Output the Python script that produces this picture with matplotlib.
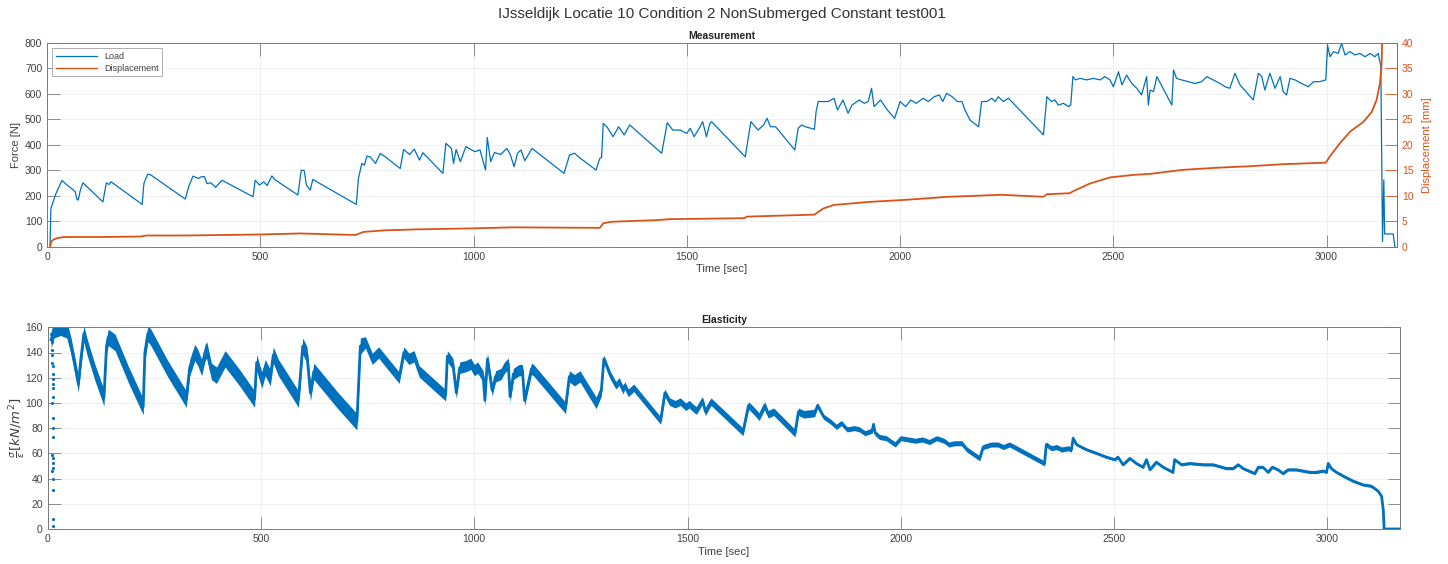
import numpy as np
import matplotlib
matplotlib.use("Agg")
import matplotlib.pyplot as plt

plt.rcParams['font.family'] = ['Liberation Sans', 'DejaVu Sans']

# ---------------- data ----------------
load_time = [7, 9, 13, 20, 28, 35, 47, 60, 66, 70, 73, 78, 84, 131, 139, 145, 150, 223, 227, 236, 244,
             324, 332, 342, 355, 362, 369, 375, 384, 395, 410, 483, 488, 498, 508, 516, 527, 535, 588,
             596, 603, 608, 617, 623, 725, 730, 738, 744, 750, 758, 770, 781, 793, 828, 836, 850, 861,
             873, 881, 928, 935, 948, 953, 959, 969, 982, 1003, 1015, 1028, 1032, 1040, 1049, 1063,
             1078, 1086, 1095, 1103, 1111, 1120, 1128, 1137, 1212, 1225, 1237, 1245, 1287, 1296, 1300,
             1304, 1313, 1327, 1340, 1353, 1366, 1441, 1454, 1467, 1484, 1500, 1508, 1517, 1529, 1537,
             1546, 1554, 1558, 1637, 1650, 1667, 1680, 1688, 1696, 1708, 1753, 1761, 1769, 1778, 1799,
             1803, 1808, 1820, 1832, 1845, 1853, 1866, 1878, 1887, 1904, 1916, 1925, 1933, 1939, 1954,
             1970, 1987, 2000, 2013, 2025, 2038, 2054, 2066, 2080, 2092, 2100, 2109, 2122, 2134, 2145,
             2152, 2164, 2184, 2191, 2203, 2215, 2223, 2230, 2242, 2254, 2336, 2344, 2355, 2363, 2371,
             2383, 2395, 2400, 2405, 2411, 2422, 2437, 2453, 2469, 2480, 2492, 2500, 2512, 2520, 2531,
             2543, 2555, 2566, 2578, 2582, 2586, 2594, 2602, 2637, 2641, 2648, 2660, 2676, 2691, 2707,
             2719, 2734, 2750, 2762, 2773, 2785, 2797, 2828, 2840, 2848, 2855, 2867, 2879, 2891, 2898,
             2906, 2914, 2926, 2941, 2957, 2969, 2984, 2998, 3002, 3008, 3016, 3027, 3035, 3043, 3055,
             3066, 3078, 3090, 3102, 3113, 3121, 3127, 3131, 3134, 3136, 3156, 3160]
load_force = [0, 150, 170, 205, 235, 260, 242, 225, 216, 186, 183, 222, 251, 176, 251, 244, 255, 166, 248, 285, 281,
              187, 235, 277, 268, 275, 275, 248, 251, 233, 261, 196, 261, 242, 255, 240, 278, 262, 203,
              301, 298, 242, 222, 264, 166, 268, 327, 320, 356, 352, 327, 366, 353, 307, 382, 362, 383,
              340, 369, 288, 406, 386, 327, 382, 334, 393, 373, 380, 301, 429, 334, 370, 362,
              386, 362, 314, 367, 380, 338, 360, 386, 288, 360, 367, 354, 301, 347, 350,
              484, 470, 432, 471, 439, 478, 367, 487, 458, 458, 445, 465, 432, 465, 491,
              432, 484, 491, 353, 491, 458, 478, 504, 471, 471, 380, 465, 478, 471, 461,
              530, 570, 570, 570, 583, 537, 576, 524, 556, 576, 563, 570, 622, 550, 576,
              537, 504, 570, 550, 576, 563, 583, 570, 589, 596, 570, 602, 589, 570, 570,
              537, 497, 471, 570, 570, 583, 570, 589, 570, 583, 439, 589, 570, 576, 556,
              563, 550, 556, 668, 655, 661, 655, 661, 655, 668, 655, 628, 687, 635, 674,
              641, 622, 596, 668, 556, 615, 609, 668, 556, 694, 661, 655, 648, 641, 648,
              668, 655, 641, 628, 622, 681, 635, 576, 681, 668, 615, 681, 622, 668, 609,
              596, 661, 655, 641, 628, 648, 648, 655, 792, 746, 766, 759, 799, 753, 766,
              753, 759, 746, 759, 746, 759, 707, 20, 262, 50, 50, 0]

disp_time = [7, 10, 15, 25, 40, 125, 219, 234, 328, 500, 594, 723, 742, 789, 867, 1000, 1091, 1296, 1304,
             1325, 1425, 1459, 1635, 1640, 1761, 1799, 1820, 1845, 1929, 2013, 2113, 2180, 2237, 2336,
             2344, 2398, 2406, 2445, 2492, 2547, 2586, 2664, 2742, 2820, 2898, 2998, 3008, 3031, 3055,
             3086, 3106, 3117, 3125, 3129, 3132]
disp_mm = [0, 1.0, 1.4, 1.7, 1.9, 1.9, 2.0, 2.2, 2.2, 2.4, 2.6, 2.3, 2.9, 3.2, 3.4, 3.6, 3.8, 3.7, 4.6,
           4.9, 5.2, 5.4, 5.6, 5.9, 6.2, 6.3, 7.5, 8.2, 8.8, 9.2, 9.8, 10.0, 10.2, 9.8,
           10.3, 10.5, 10.9, 12.4, 13.6, 14.1, 14.3, 15.1, 15.5, 15.8, 16.2, 16.5, 17.8, 20.3, 22.6,
           24.5, 26.5, 28.8, 32.1, 36, 48]

elas_time = [8, 15, 30, 45, 55, 65, 72, 78, 85, 92, 110, 132, 138, 142, 150, 158, 190, 224, 228, 235, 242,
             280, 325, 333, 345, 352, 361, 369, 373, 384, 396, 416, 450, 485, 490, 502, 510, 522, 529,
             541, 588, 598, 608, 616, 624, 680, 725, 733, 745, 761, 776, 824, 835, 847, 859, 871, 933,
             937, 950, 958, 966, 979, 992, 1000, 1008, 1021, 1025, 1031, 1042, 1050, 1063, 1071, 1080,
             1084, 1092, 1105, 1113, 1118, 1134, 1139, 1214, 1223, 1235, 1248, 1286, 1298, 1304, 1319,
             1332, 1340, 1349, 1353, 1361, 1374, 1437, 1447, 1458, 1471, 1483, 1496, 1504, 1513, 1521,
             1535, 1542, 1555, 1630, 1643, 1655, 1668, 1681, 1689, 1702, 1752, 1760, 1773, 1798, 1805,
             1819, 1836, 1849, 1861, 1874, 1891, 1903, 1916, 1933, 1936, 1940, 1950, 1966, 1987, 2000,
             2017, 2034, 2050, 2067, 2084, 2101, 2113, 2126, 2143, 2155, 2185, 2193, 2212, 2228, 2240,
             2255, 2337, 2341, 2353, 2365, 2377, 2392, 2400, 2404, 2412, 2423, 2435, 2459, 2482, 2502,
             2509, 2521, 2537, 2552, 2568, 2576, 2584, 2599, 2615, 2638, 2642, 2658, 2677, 2709, 2732,
             2763, 2779, 2791, 2802, 2830, 2838, 2849, 2861, 2871, 2884, 2896, 2908, 2927, 2959, 2974,
             2990, 2998, 3002, 3009, 3021, 3037, 3060, 3084, 3103, 3119, 3127, 3131, 3133, 3168]
elas_value = [150, 158, 160, 158, 145, 128, 115, 135, 155, 145, 125, 104, 145, 152, 150, 148, 122, 97, 140, 155, 152,
              128, 103, 128, 140, 136, 128, 140, 142, 125, 122, 135, 120, 103, 132, 118, 128, 120, 138,
              128, 103, 145, 138, 108, 125, 102, 85, 145, 148, 135, 140, 120, 140, 135, 137, 125, 106,
              137, 131, 108, 128, 129, 131, 126, 128, 121, 102, 135, 110, 121, 123, 128, 131,
              105, 123, 126, 126, 102, 127, 126, 96, 121, 118, 121, 100, 110, 135, 122,
              114, 117, 110, 114, 108, 112, 86, 108, 101, 99, 101, 97, 99, 96, 94,
              102, 93, 101, 77, 98, 94, 89, 98, 91, 93, 76, 93, 91, 92, 98,
              89, 85, 81, 84, 79, 80, 79, 76, 78, 83, 76, 73, 72, 67, 72,
              71, 70, 71, 69, 72, 70, 67, 68, 68, 63, 56, 65, 67, 67, 65,
              67, 52, 67, 64, 65, 63, 64, 63, 72, 67, 65, 63, 60, 57, 55,
              57, 51, 56, 52, 49, 55, 47, 53, 49, 45, 55, 51, 52, 51, 51,
              48, 48, 51, 48, 44, 49, 49, 45, 49, 47, 44, 47, 47, 45, 45,
              46, 45, 52, 48, 45, 42, 38, 35, 34, 30, 26, 15, 0, 0]
# band thickness of the dense sample cloud, per time range
elas_band_edges = [740, 1300, 1800, 2400, 3125]
elas_band_widths = [13, 9, 6, 4, 2, 0]

# isolated samples at the start of the test
elas_start_time = [9, 10, 10, 11, 11, 12, 12, 12, 13, 13, 13, 11, 12, 12, 13, 11, 12, 13, 12, 11, 12, 13, 12, 13]
elas_start_value = [155, 148, 142, 138, 132, 129, 123, 119, 115, 112, 105, 100, 88, 80, 73, 59, 56, 52, 48, 46,
                    40, 31, 8, 2]

title = "IJsseldijk Locatie 10 Condition 2 NonSubmerged Constant test001"

BLUE = '#0072BD'
ORANGE = '#D95319'
TXT = '#404040'
SPINE = '#7a7a7a'

fig = plt.figure(figsize=(14.48, 5.64), dpi=100)
fig.patch.set_facecolor('white')

def style(ax):
    for s in ax.spines.values():
        s.set_color(SPINE)
        s.set_linewidth(0.7)
    ax.tick_params(direction='in', length=9, width=0.6, labelsize=7.5, colors=SPINE,
                   labelcolor=TXT, top=True)
    ax.grid(True, color='#ececec', linewidth=0.6)
    ax.set_axisbelow(True)

# ---------------- Measurement ----------------
ax1 = fig.add_axes([0.0325, 0.5626, 0.9323, 0.3612])
style(ax1)
l1, = ax1.plot(load_time, load_force, color=BLUE, lw=0.9, label='Load')
ax1.set_xlim(0, 3165)
ax1.set_ylim(0, 800)
ax1.set_yticks(np.arange(0, 801, 100))
ax1.set_xticks(np.arange(0, 3001, 500))
ax1.set_ylabel('Force [N]', fontsize=8, color=TXT, labelpad=3)
ax1.set_xlabel('Time [sec]', fontsize=8, color=TXT, labelpad=2)
ax1.set_title('Measurement', fontsize=7.5, fontweight='bold', pad=3, color='#222222')

ax2 = ax1.twinx()
ax2.plot(disp_time, disp_mm, color=ORANGE, lw=1.3)
ax2.set_ylim(0, 40)
ax2.set_yticks(np.arange(0, 41, 5))
ax2.tick_params(direction='in', length=9, width=0.6, labelsize=7.5, colors=ORANGE)
ax2.spines['right'].set_color(ORANGE)
ax2.spines['right'].set_linewidth(0.7)
for k in ['top', 'left', 'bottom']:
    ax2.spines[k].set_visible(False)
ax2.set_ylabel('Displacement [mm]', fontsize=8, color=ORANGE, labelpad=6)
l2 = plt.Line2D([], [], color=ORANGE, lw=1.0, label='Displacement')
leg = ax1.legend(handles=[l1, l2], loc='upper left', fontsize=6.5, frameon=True, fancybox=False,
                 borderaxespad=0.6, handlelength=4.5, borderpad=0.4, labelspacing=0.3)
leg.get_frame().set_edgecolor('#8a8a8a')
leg.get_frame().set_linewidth(0.6)
for t in leg.get_texts():
    t.set_color(TXT)

# ---------------- Elasticity ----------------
ax3 = fig.add_axes([0.0329, 0.0621, 0.9339, 0.3576])
style(ax3)
ax3.tick_params(right=True)
et = np.array(elas_time, dtype=float)
ev = np.array(elas_value, dtype=float)
half = np.array(elas_band_widths)[np.searchsorted(elas_band_edges, et)] / 2.0
ax3.fill_between(et, ev - half, ev + half, color=BLUE, linewidth=0)
ax3.plot(et, ev, color=BLUE, lw=2.0)
ax3.plot(elas_start_time, elas_start_value, '.', color=BLUE, ms=2.5)
ax3.set_xlim(0, 3170)
ax3.set_ylim(0, 160)
ax3.set_yticks(np.arange(0, 161, 20))
ax3.set_xticks(np.arange(0, 3001, 500))
ax3.set_xlabel('Time [sec]', fontsize=8, color=TXT, labelpad=2)
ax3.set_ylabel(r'$\frac{\sigma}{\varepsilon}[kN/m^2]$', fontsize=9.5, color=TXT, labelpad=-1)
ax3.set_title('Elasticity', fontsize=7.5, fontweight='bold', pad=3, color='#222222')

fig.text(0.4985, 0.975, title, ha='center', va='center', fontsize=11, color='#333333')

fig.savefig('out.png', dpi=100, facecolor='white')
